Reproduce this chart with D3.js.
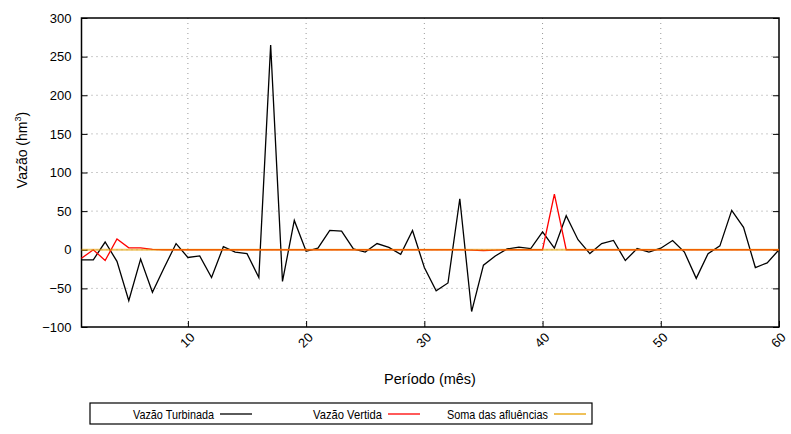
<!DOCTYPE html>
<html><head><meta charset="utf-8">
<script src="https://cdn.jsdelivr.net/npm/d3@7"></script>
<style>body{margin:0;background:#fff}svg{display:block}text{font-family:"Liberation Sans",Arial,sans-serif;fill:#000}</style>
</head><body><svg id="c" width="791" height="434"></svg>
<script>
const periods = d3.range(1, 61);
const turbinada = [-13,-13,10,-15,-66,-12,-55,-23,8,-10,-8,-36,4,-3,-5,-36,265,-41,38,-2,
  2,25,24,1,-3,8,3,-6,25,-23,-53,-43,66,-80,-20,-8,1,3.5,1.5,23,
  2,44,13,-5,8,12,-14,1.5,-3,2,12,-3,-37,-5,5,51,29,-23,-17,0];
const vertida = [-11,0,-14,14,2.5,2.5,0.5,0,0,0,0,0,0,0,0,0,0,0,0,0,
  0,0,0,0,0,0,0,0,0,0,0,0,0,-0.5,-1,-0.5,0,0,0,0,
  72,0,0,0,0,0,0,0,0,0,0,0,0,0,0,0,0,0,0,0];
const afluencias = periods.map(() => 0);
const yTicks = [-100,-50,0,50,100,150,200,250,300];
const xTicks = [10,20,30,40,50,60];
const seriesNames = ["Vazão Turbinada","Vazão Vertida","Soma das afluências"];

const svg = d3.select("#c");
const L=81.5, R=779, T=18, B=327;
const x = d3.scaleLinear().domain([1,60]).range([L,R]);
const y = d3.scaleLinear().domain([-100,300]).range([B,T]);

// grid
const g = svg.append("g");
g.selectAll(".gy").data(yTicks.filter(v=>v>-100&&v<300)).join("line")
  .attr("x1",L).attr("x2",R).attr("y1",d=>y(d)).attr("y2",d=>y(d))
  .attr("stroke","#999").attr("stroke-width",1).attr("stroke-dasharray","1,4");
g.selectAll(".gx").data(xTicks.filter(v=>v<60)).join("line")
  .attr("y1",T).attr("y2",B).attr("x1",d=>x(d)).attr("x2",d=>x(d))
  .attr("stroke","#999").attr("stroke-width",1).attr("stroke-dasharray","1,4");

// axes
const ax = svg.append("g").attr("transform",`translate(0,${B})`)
  .call(d3.axisBottom(x).tickValues(xTicks).tickSize(-6).tickFormat(d3.format("d")));
ax.select(".domain").remove();
ax.selectAll(".tick line").attr("stroke","#000");
ax.selectAll(".tick text").attr("font-size",13).attr("text-anchor","end")
  .attr("transform","translate(4,8) rotate(-45)").attr("dy","0.35em").attr("y",0).attr("x",0);
const ay = svg.append("g").attr("transform",`translate(${L},0)`)
  .call(d3.axisLeft(y).tickValues(yTicks).tickSize(-6).tickPadding(10));
ay.select(".domain").remove();
ay.selectAll(".tick line").attr("stroke","#000");
ay.selectAll(".tick text").attr("font-size",13);
const ar = svg.append("g").attr("transform",`translate(${R},0)`)
  .call(d3.axisRight(y).tickValues(yTicks).tickSize(-6).tickFormat(""));
ar.select(".domain").remove();
ar.selectAll(".tick line").attr("stroke","#000");

svg.append("rect").attr("x",L).attr("y",T).attr("width",R-L).attr("height",B-T)
  .attr("fill","none").attr("stroke","#000").attr("stroke-width",1.5);

// lines
const line = d3.line().x((d,i)=>x(periods[i])).y(d=>y(d));
svg.append("path").datum(turbinada).attr("d",line).attr("fill","none").attr("stroke","#000").attr("stroke-width",1.3);
svg.append("path").datum(vertida).attr("d",line).attr("fill","none").attr("stroke","#ff0000").attr("stroke-width",1.3);
svg.append("path").datum(afluencias).attr("d",line).attr("fill","none").attr("stroke","#e6a000").attr("stroke-width",2.2).attr("stroke-opacity",0.6);

// labels
svg.append("text").attr("x",430).attr("y",384).attr("text-anchor","middle").attr("font-size",14.5).text("Período (mês)");
const yl = svg.append("text").attr("transform","translate(27,150) rotate(-90)").attr("text-anchor","middle").attr("font-size",14);
yl.append("tspan").text("Vazão (hm");
yl.append("tspan").attr("font-size",9).attr("dy",-6).text("3");
yl.append("tspan").attr("dy",6).text(")");

// legend
svg.append("rect").attr("x",90).attr("y",403).attr("width",502).attr("height",21)
  .attr("fill","none").attr("stroke","#000").attr("stroke-width",1.2);
const legColors = ["#000","#ff0000","#e6a000"];
const legEnd = [214,382,548];
const legWidth = [81,69,101];
seriesNames.forEach((n,i)=>{
  svg.append("text").attr("x",legEnd[i]-legWidth[i]).attr("y",414).attr("dy","0.35em")
    .attr("font-size",13.5).attr("textLength",legWidth[i]).attr("lengthAdjust","spacingAndGlyphs").text(n);
  svg.append("line").attr("x1",legEnd[i]+6).attr("x2",legEnd[i]+38).attr("y1",414).attr("y2",414)
    .attr("stroke",legColors[i]).attr("stroke-width",1.3);
});
</script></body></html>
